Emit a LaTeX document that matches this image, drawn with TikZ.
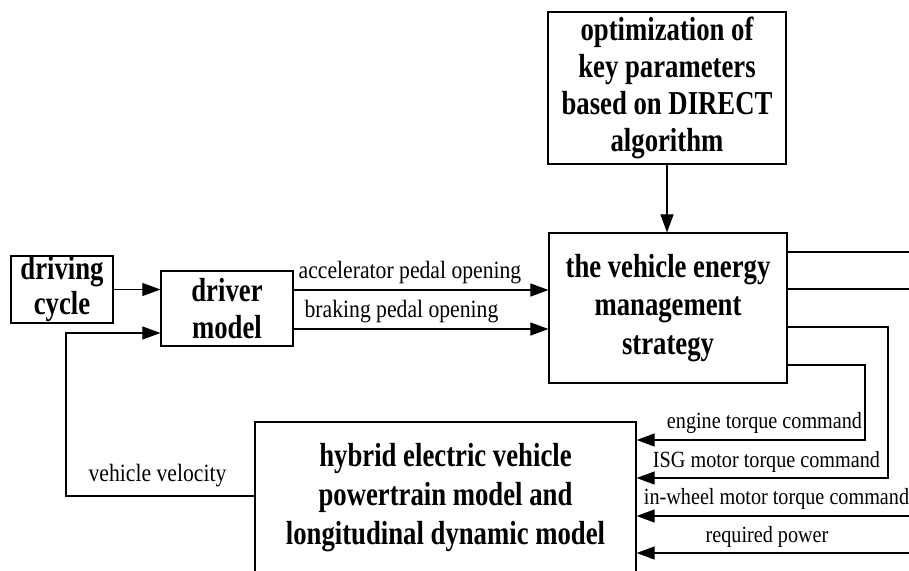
\documentclass[tikz,border=0pt]{standalone}
\usepackage{fontspec}
\setmainfont{Liberation Serif}
\newfontfamily\tnrb[FakeStretch=0.8]{Liberation Serif}
\newfontfamily\tnr[FakeStretch=0.87]{Liberation Serif}
\usetikzlibrary{arrows.meta,calc}
\begin{document}
\begin{tikzpicture}[x=1pt,y=-1pt,
  boxfont/.style={font=\tnrb\fontsize{33.4}{37}\selectfont\bfseries},
  box/.style={draw=black, line width=1.2pt, inner sep=0pt, align=center, boxfont},
  lbl/.style={inner sep=0pt, anchor=base, font=\tnr\fontsize{24.9}{28}\selectfont},
  rlbl/.style={inner sep=0pt, anchor=base, font=\tnr\fontsize{23.2}{26}\selectfont},
  conn/.style={line width=1.1pt},
  arr/.style={conn, -{Triangle[length=18pt,width=13pt]}}]
\useasboundingbox (0,0) rectangle (909,570);
\clip (0,0) rectangle (909,570);

% boxes
\node[box, minimum width=238pt, minimum height=152pt] (opt) at (667,88)
  {optimization of\\key parameters\\based on DIRECT\\algorithm};
\node[box, minimum width=238pt, minimum height=150pt, font=\tnrb\fontsize{33.4}{38.5}\selectfont\bfseries] (ems) at (668,308)
  {the vehicle energy\\management\\strategy};
\node[box, minimum width=102pt, minimum height=67pt, font=\tnrb\fontsize{33.4}{35}\selectfont\bfseries] (cyc) at (62,289.5)
  {driving\\cycle};
\node[box, minimum width=132pt, minimum height=75pt] (drv) at (227,308.5)
  {driver\\model};
\node[box, minimum width=381pt, minimum height=200pt] (hev) at (445.5,522) {};
\node[inner sep=0pt, align=center, font=\tnrb\fontsize{33.4}{39}\selectfont\bfseries] (hevt) at (445.5,498)
  {hybrid electric vehicle\\powertrain model and\\longitudinal dynamic model};

% helper coordinates
\coordinate (pa) at (0,290);
\coordinate (pb) at (0,329);
\coordinate (fb) at (66,496);
\coordinate (fi) at (0,333);
\coordinate (r1) at (915,252);
\coordinate (r2) at (915,289);
\coordinate (c1) at (888,327);
\coordinate (c1b) at (888,478);
\coordinate (c2) at (865,365);
\coordinate (c2b) at (865,440);
\coordinate (r3) at (915,516);
\coordinate (r4) at (915,553);

% connectors
\draw[arr] (opt.south) -- (opt.south |- ems.north);
\draw[arr] (cyc.east) -- (cyc.east -| drv.west);
\draw[arr] (drv.east |- pa) -- (ems.west |- pa);
\draw[arr] (drv.east |- pb) -- (ems.west |- pb);
\draw[arr] (hev.west |- fb) -- (fb) |- (drv.west |- fi);
\draw[conn] (ems.east |- r1) -- (r1);
\draw[conn] (ems.east |- r2) -- (r2);
\draw[arr] (ems.east |- c1) -- (c1) -- (c1b) -- (hev.east |- c1b);
\draw[arr] (ems.east |- c2) -- (c2) -- (c2b) -- (hev.east |- c2b);
\draw[arr] (r3) -- (hev.east |- r3);
\draw[arr] (r4) -- (hev.east |- r4);

% labels
\node[lbl] (la) at (410,278) {accelerator pedal opening};
\node[lbl] (lb) at (401.5,317) {braking pedal opening};
\node[lbl] (lv) at (157.5,481) {vehicle velocity};
\node[rlbl] (l1) at (764.5,428) {engine torque command};
\node[rlbl] (l2) at (766.5,467) {ISG motor torque command};
\node[rlbl] (l3) at (776.5,504) {in-wheel motor torque command};
\node[rlbl] (l4) at (767,542) {required power};
\end{tikzpicture}
\end{document}
